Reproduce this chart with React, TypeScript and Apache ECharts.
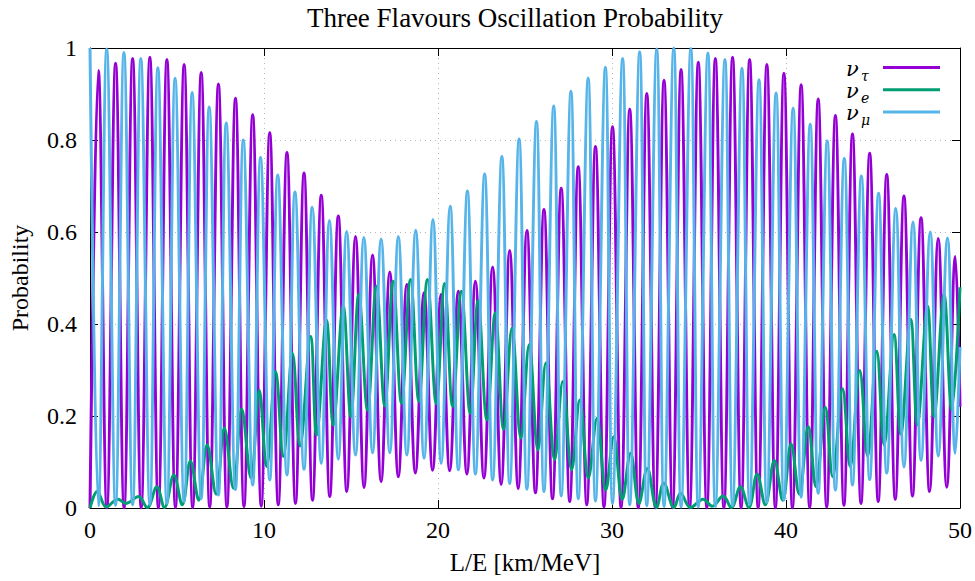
import React, { useEffect, useRef } from "react";
import * as echarts from "echarts";

// Oscillation probabilities versus L/E, listed as the successive
// maxima and minima of each curve ([L/E, probability]).
const nuTau: [number, number][] = [
  [0, 0],
  [0.48, 0.951], [0.97, 0.0], [1.47, 0.967], [1.96, 0.0], [2.45, 0.977], [2.94, 0.0],
  [3.44, 0.98], [3.93, 0.0], [4.42, 0.975], [4.91, 0.001], [5.41, 0.964], [5.9, 0.001],
  [6.39, 0.947], [6.88, 0.002], [7.38, 0.922], [7.87, 0.002], [8.36, 0.891], [8.85, 0.003],
  [9.35, 0.855], [9.84, 0.004], [10.33, 0.816], [10.82, 0.007], [11.32, 0.773], [11.81, 0.01],
  [12.3, 0.728], [12.79, 0.017], [13.29, 0.68], [13.78, 0.025], [14.27, 0.635], [14.76, 0.036],
  [15.26, 0.59], [15.75, 0.044], [16.24, 0.55], [16.73, 0.057], [17.23, 0.513], [17.72, 0.068],
  [18.21, 0.486], [18.7, 0.076], [19.2, 0.468], [19.69, 0.082], [20.18, 0.464], [20.67, 0.081],
  [21.17, 0.471], [21.66, 0.074], [22.15, 0.493], [22.64, 0.065], [23.14, 0.524], [23.63, 0.051],
  [24.12, 0.56], [24.61, 0.042], [25.11, 0.603], [25.6, 0.033], [26.09, 0.649], [26.58, 0.02],
  [27.08, 0.695], [27.57, 0.014], [28.06, 0.742], [28.55, 0.007], [29.05, 0.786], [29.54, 0.002],
  [30.03, 0.829], [30.52, 0.001], [31.02, 0.867], [31.51, 0.0], [32.0, 0.901], [32.49, 0.0],
  [32.99, 0.93], [33.48, 0.0], [33.97, 0.953], [34.46, 0.0], [34.96, 0.969], [35.45, 0.0],
  [35.94, 0.977], [36.43, 0.0], [36.93, 0.98], [37.42, 0.0], [37.91, 0.975], [38.4, 0.0],
  [38.9, 0.964], [39.39, 0.0], [39.88, 0.945], [40.37, 0.0], [40.87, 0.92], [41.36, 0.001],
  [41.85, 0.889], [42.34, 0.002], [42.84, 0.853], [43.33, 0.006], [43.82, 0.813], [44.31, 0.01],
  [44.81, 0.771], [45.3, 0.014], [45.79, 0.725], [46.28, 0.019], [46.78, 0.678], [47.27, 0.026],
  [47.76, 0.631], [48.25, 0.036], [48.75, 0.586], [49.24, 0.045], [49.73, 0.547], [50, 0.22],
];

const nuE: [number, number][] = [
  [0, 0],
  [0.42, 0.036], [0.94, 0.002], [1.6, 0.019], [2.08, 0.01], [2.79, 0.025], [3.29, 0.001],
  [3.84, 0.046], [4.28, 0.001], [4.82, 0.072], [5.3, 0.007], [5.77, 0.102], [6.25, 0.017],
  [6.73, 0.137], [7.25, 0.03], [7.72, 0.174], [8.24, 0.043], [8.72, 0.215], [9.25, 0.065],
  [9.73, 0.256], [10.15, 0.09], [10.67, 0.297], [11.11, 0.112], [11.64, 0.336], [12.07, 0.135],
  [12.68, 0.373], [13.02, 0.159], [13.59, 0.408], [13.98, 0.181], [14.55, 0.439], [14.99, 0.199],
  [15.45, 0.464], [15.95, 0.213], [16.46, 0.482], [16.94, 0.222], [17.42, 0.493], [17.9, 0.228],
  [18.42, 0.497], [18.9, 0.232], [19.39, 0.497], [19.9, 0.227], [20.38, 0.488], [20.84, 0.221],
  [21.34, 0.471], [21.85, 0.206], [22.3, 0.45], [22.81, 0.192], [23.29, 0.424], [23.77, 0.171],
  [24.25, 0.391], [24.76, 0.152], [25.24, 0.355], [25.74, 0.126], [26.2, 0.315], [26.7, 0.105],
  [27.17, 0.275], [27.68, 0.083], [28.15, 0.235], [28.64, 0.065], [29.14, 0.195], [29.64, 0.039],
  [30.1, 0.155], [30.59, 0.019], [31.07, 0.119], [31.55, 0.01], [32.03, 0.086], [32.56, 0.001],
  [32.98, 0.054], [33.56, 0.001], [33.94, 0.032], [34.51, 0.001], [35.24, 0.019], [35.76, 0.004],
  [36.39, 0.026], [36.86, 0.001], [37.38, 0.046], [37.86, 0.001], [38.34, 0.074], [38.81, 0.007],
  [39.33, 0.103], [39.81, 0.017], [40.29, 0.139], [40.76, 0.03], [41.28, 0.177], [41.72, 0.046],
  [42.26, 0.219], [42.68, 0.068], [43.25, 0.259], [43.69, 0.09], [44.24, 0.299], [44.69, 0.113],
  [45.22, 0.341], [45.64, 0.137], [46.21, 0.377], [46.6, 0.161], [47.17, 0.41], [47.55, 0.181],
  [48.13, 0.439], [48.51, 0.199], [49.08, 0.464], [49.52, 0.214], [50, 0.48],
];

const nuMu: [number, number][] = [
  [0, 1.0],
  [0.48, 0.005], [0.96, 0.998], [1.47, 0.006], [1.95, 0.99], [2.45, 0.007], [2.92, 0.977],
  [3.44, 0.008], [3.9, 0.957], [4.42, 0.01], [4.89, 0.934], [5.41, 0.014], [5.87, 0.903],
  [6.39, 0.02], [6.85, 0.872], [7.38, 0.028], [7.83, 0.837], [8.36, 0.04], [8.81, 0.8],
  [9.35, 0.05], [9.8, 0.762], [10.33, 0.061], [10.79, 0.724], [11.32, 0.072], [11.78, 0.687],
  [12.3, 0.084], [12.77, 0.654], [13.29, 0.097], [13.76, 0.625], [14.27, 0.106], [14.75, 0.601],
  [15.26, 0.115], [15.74, 0.588], [16.24, 0.12], [16.73, 0.585], [17.23, 0.12], [17.72, 0.59],
  [18.21, 0.115], [18.72, 0.604], [19.2, 0.108], [19.71, 0.627], [20.18, 0.097], [20.7, 0.656],
  [21.17, 0.083], [21.69, 0.689], [22.15, 0.074], [22.68, 0.726], [23.14, 0.061], [23.67, 0.764],
  [24.12, 0.053], [24.66, 0.802], [25.11, 0.041], [25.66, 0.84], [26.09, 0.036], [26.65, 0.874],
  [27.08, 0.026], [27.64, 0.906], [28.06, 0.02], [28.63, 0.935], [29.05, 0.015], [29.62, 0.958],
  [30.03, 0.01], [30.61, 0.977], [31.02, 0.007], [31.59, 0.992], [32.0, 0.005], [32.57, 0.998],
  [32.99, 0.003], [33.55, 1.0], [33.97, 0.002], [34.53, 0.999], [34.96, 0.002], [35.51, 0.989],
  [35.94, 0.003], [36.49, 0.975], [36.93, 0.005], [37.47, 0.956], [37.91, 0.008], [38.45, 0.931],
  [38.9, 0.012], [39.43, 0.902], [39.88, 0.017], [40.41, 0.869], [40.87, 0.024], [41.39, 0.834],
  [41.85, 0.032], [42.37, 0.798], [42.84, 0.039], [43.35, 0.76], [43.82, 0.05], [44.33, 0.722],
  [44.81, 0.062], [45.32, 0.684], [45.79, 0.076], [46.31, 0.651], [46.78, 0.089], [47.3, 0.622],
  [47.76, 0.103], [48.29, 0.6], [48.75, 0.113], [49.28, 0.587], [49.73, 0.119], [50, 0.35],
];

const seriesNames = ["ντ", "νe", "νμ"];
const flavourSubscripts = ["τ", "e", "μ"];
const seriesColors = ["#9400d3", "#009e73", "#56b4e9"];
const seriesData = [nuTau, nuE, nuMu];

const chartTitle = "Three Flavours Oscillation Probability";
const xAxisName = "L/E [km/MeV]";
const yAxisName = "Probability";

const SERIF = '"Liberation Serif", "DejaVu Serif", serif';
const MATH = '"DejaVu Serif", "Liberation Serif", serif';

const GRID = { left: 90, top: 48, width: 872, height: 460 };

function buildOption() {
  const axisLine = { show: true, onZero: false, lineStyle: { color: "#000", width: 1 } };
  const innerTick = { show: true, inside: true, length: 8, lineStyle: { color: "#000", width: 1 } };
  const dotted = { show: true, lineStyle: { color: "#b4b4b4", width: 1, type: [1, 4] } };
  const labelStyle = { fontFamily: SERIF, fontSize: 24, color: "#000" };

  // Key in the upper right corner: italic ν with a subscript, then a line sample.
  const legendItems: any[] = [];
  const legendLineX0 = 883;
  const legendLineX1 = 940;
  const legendTop = 67.5;
  const legendStep = 22.2;
  seriesNames.forEach((_, i) => {
    const y = legendTop + i * legendStep;
    legendItems.push({
      type: "text",
      x: 846,
      y: y + 1,
      style: {
        text: "ν",
        fontFamily: MATH,
        fontStyle: "italic",
        fontSize: 21,
        lineHeight: 20,
        fill: "#000",
        textAlign: "left",
        textVerticalAlign: "middle",
      },
    });
    legendItems.push({
      type: "text",
      x: 861,
      y: y + 8,
      style: {
        text: flavourSubscripts[i],
        fontFamily: MATH,
        fontStyle: "italic",
        fontSize: 14,
        lineHeight: 14,
        fill: "#000",
        textAlign: "left",
        textVerticalAlign: "middle",
      },
    });
    legendItems.push({
      type: "line",
      shape: { x1: legendLineX0, y1: y, x2: legendLineX1, y2: y },
      style: { stroke: seriesColors[i], lineWidth: 3 },
    });
  });

  return {
    animation: false,
    backgroundColor: "#ffffff",
    title: {
      text: chartTitle,
      left: 510,
      top: -1,
      textAlign: "center",
      textStyle: { fontFamily: SERIF, fontSize: 27, fontWeight: "normal", color: "#000" },
    },
    grid: GRID,
    xAxis: [
      {
        type: "value",
        min: 0,
        max: 50,
        interval: 10,
        position: "bottom",
        name: xAxisName,
        nameLocation: "middle",
        nameGap: 42,
        nameTextStyle: { fontFamily: SERIF, fontSize: 25, color: "#000" },
        axisLine,
        axisTick: innerTick,
        axisLabel: { ...labelStyle, margin: 10 },
        splitLine: dotted,
      },
      {
        type: "value",
        min: 0,
        max: 50,
        interval: 10,
        position: "top",
        axisLine,
        axisTick: innerTick,
        axisLabel: { show: false },
        splitLine: { show: false },
      },
    ],
    yAxis: [
      {
        type: "value",
        min: 0,
        max: 1,
        interval: 0.2,
        position: "left",
        name: yAxisName,
        nameLocation: "middle",
        nameGap: 58,
        nameRotate: 90,
        nameTextStyle: { fontFamily: SERIF, fontSize: 24, color: "#000" },
        axisLine,
        axisTick: innerTick,
        axisLabel: { ...labelStyle, margin: 13 },
        splitLine: dotted,
      },
      {
        type: "value",
        min: 0,
        max: 1,
        interval: 0.2,
        position: "right",
        axisLine,
        axisTick: innerTick,
        axisLabel: { show: false },
        splitLine: { show: false },
      },
    ],
    series: seriesData.map((data, i) => ({
      name: seriesNames[i],
      type: "line",
      xAxisIndex: 0,
      yAxisIndex: 0,
      data,
      smooth: 0.38,
      showSymbol: false,
      symbol: "none",
      clip: true,
      lineStyle: { color: seriesColors[i], width: 3 },
      itemStyle: { color: seriesColors[i] },
      z: 2 + i,
    })),
    graphic: legendItems,
  };
}

export default function App() {
  const ref = useRef<HTMLDivElement>(null);

  useEffect(() => {
    document.body.style.margin = "0";
    if (!ref.current) return;
    const chart = echarts.init(ref.current, undefined, { renderer: "svg" });
    chart.setOption(buildOption() as any);
    return () => {
      chart.dispose();
    };
  }, []);

  return <div ref={ref} style={{ width: 975, height: 581, background: "#fff" }} />;
}
